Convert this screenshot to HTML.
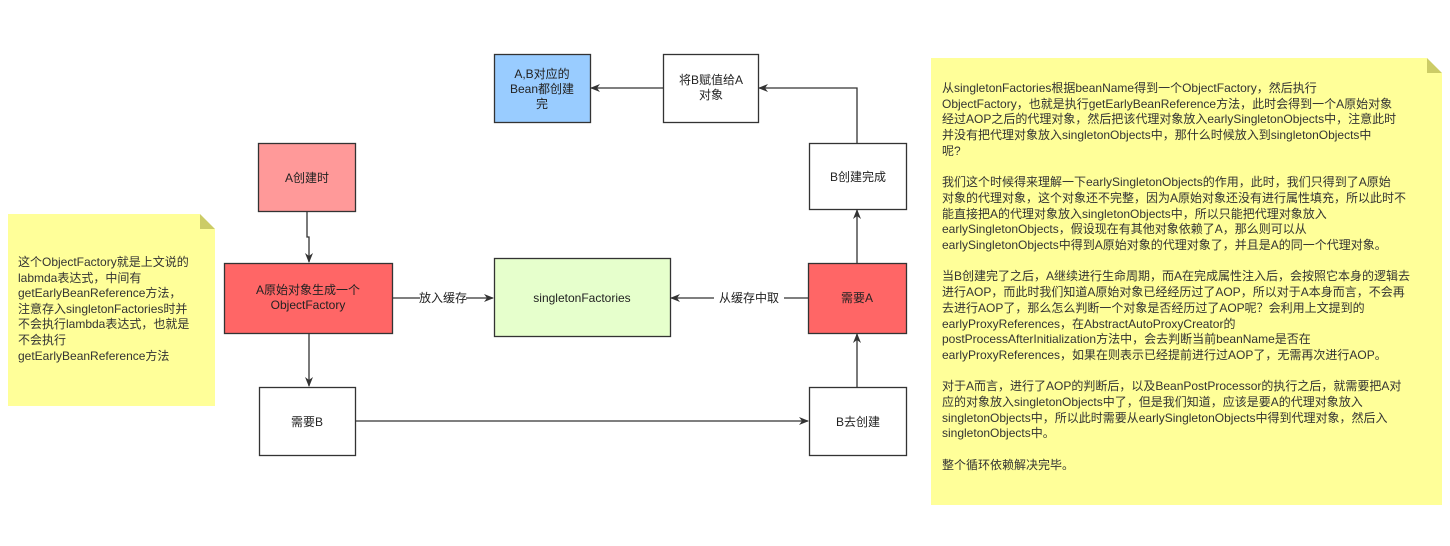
<!DOCTYPE html>
<html><head><meta charset="utf-8"><style>
body{margin:0;width:1450px;height:546px;background:#fff;position:relative;overflow:hidden;font-family:"Liberation Sans","Noto Sans CJK SC",sans-serif;}
.note{position:absolute;background:#ffff99;}
.fold{position:absolute;right:0;top:0;width:0;height:0;border-style:solid;}
.txt{position:absolute;white-space:nowrap;color:#333;}
</style></head><body>
<svg width="1450" height="546" style="position:absolute;left:0;top:0">
<defs><marker id="a" markerWidth="10" markerHeight="10" refX="9" refY="5" orient="auto" markerUnits="userSpaceOnUse"><path d="M0,1 L10,5 L0,9 L3,5 z" fill="#333"/></marker></defs>
<g stroke="#333" stroke-width="1.3" fill="none">
<rect x="494.5" y="54.5" width="96" height="68" fill="#99ccff"/>
<rect x="663.5" y="54.5" width="95" height="68" fill="#fff"/>
<rect x="258.5" y="143.5" width="97" height="68" fill="#ff9999"/>
<rect x="809.5" y="143.5" width="97" height="66" fill="#fff"/>
<rect x="224.5" y="263.5" width="168" height="70" fill="#ff6666"/>
<rect x="494.5" y="258.5" width="176" height="78" fill="#e6ffcc"/>
<rect x="808.5" y="263.5" width="98" height="70" fill="#ff6666"/>
<rect x="259.5" y="387.5" width="96" height="68" fill="#fff"/>
<rect x="809.5" y="387.5" width="97" height="68" fill="#fff"/>
<polyline points="307,211 307,237 309,237 309,262" marker-end="url(#a)"/>
<line x1="309" y1="333" x2="309" y2="386" marker-end="url(#a)"/>
<line x1="355" y1="421" x2="808" y2="421" marker-end="url(#a)"/>
<line x1="857" y1="387" x2="857" y2="334" marker-end="url(#a)"/>
<line x1="808" y1="298" x2="671" y2="298" marker-end="url(#a)"/>
<line x1="392" y1="298" x2="493" y2="298" marker-end="url(#a)"/>
<line x1="857" y1="263" x2="857" y2="210" marker-end="url(#a)"/>
<polyline points="857,143 857,88 759,88" marker-end="url(#a)"/>
<line x1="663" y1="88" x2="591" y2="88" marker-end="url(#a)"/>
</g>
<rect x="420" y="290" width="46" height="16" fill="#fff"/>
<rect x="714" y="290" width="70" height="16" fill="#fff"/>
<g font-family="Liberation Sans,Noto Sans CJK SC,sans-serif" font-size="12" fill="#222" text-anchor="middle">
<text x="542" y="78">A,B对应的</text><text x="542" y="93">Bean都创建</text><text x="542" y="108">完</text>
<text x="711" y="84">将B赋值给A</text><text x="711" y="99">对象</text>
<text x="307" y="182">A创建时</text>
<text x="858" y="181">B创建完成</text>
<text x="308" y="294">A原始对象生成一个</text><text x="308" y="309">ObjectFactory</text>
<text x="582" y="302">singletonFactories</text>
<text x="857" y="302">需要A</text>
<text x="307" y="426">需要B</text>
<text x="858" y="426">B去创建</text>
<text x="443" y="302">放入缓存</text>
<text x="749" y="302">从缓存中取</text>
</g>
</svg>
<div class="note" style="left:8px;top:214px;width:207px;height:192px;">
<div class="fold" style="border-width:0 15px 15px 0;border-color:transparent #fff #cccc66 transparent;"></div>
<div class="txt" style="left:10px;top:41px;font-size:12px;line-height:15.6px;">这个ObjectFactory就是上文说的<br>labmda表达式，中间有<br>getEarlyBeanReference方法，<br>注意存入singletonFactories时并<br>不会执行lambda表达式，也就是<br>不会执行<br>getEarlyBeanReference方法</div>
</div>
<div class="note" style="left:931px;top:58px;width:511px;height:447px;">
<div class="fold" style="border-width:0 15px 15px 0;border-color:transparent #fff #cccc66 transparent;"></div>
<div class="txt" style="left:11px;top:23px;font-size:12px;line-height:15.7px;">从singletonFactories根据beanName得到一个ObjectFactory，然后执行<br>ObjectFactory，也就是执行getEarlyBeanReference方法，此时会得到一个A原始对象<br>经过AOP之后的代理对象，然后把该代理对象放入earlySingletonObjects中，注意此时<br>并没有把代理对象放入singletonObjects中，那什么时候放入到singletonObjects中<br>呢?<br><br>我们这个时候得来理解一下earlySingletonObjects的作用，此时，我们只得到了A原始<br>对象的代理对象，这个对象还不完整，因为A原始对象还没有进行属性填充，所以此时不<br>能直接把A的代理对象放入singletonObjects中，所以只能把代理对象放入<br>earlySingletonObjects，假设现在有其他对象依赖了A，那么则可以从<br>earlySingletonObjects中得到A原始对象的代理对象了，并且是A的同一个代理对象。<br><br>当B创建完了之后，A继续进行生命周期，而A在完成属性注入后，会按照它本身的逻辑去<br>进行AOP，而此时我们知道A原始对象已经经历过了AOP，所以对于A本身而言，不会再<br>去进行AOP了，那么怎么判断一个对象是否经历过了AOP呢？会利用上文提到的<br>earlyProxyReferences，在AbstractAutoProxyCreator的<br>postProcessAfterInitialization方法中，会去判断当前beanName是否在<br>earlyProxyReferences，如果在则表示已经提前进行过AOP了，无需再次进行AOP。<br><br>对于A而言，进行了AOP的判断后，以及BeanPostProcessor的执行之后，就需要把A对<br>应的对象放入singletonObjects中了，但是我们知道，应该是要A的代理对象放入<br>singletonObjects中，所以此时需要从earlySingletonObjects中得到代理对象，然后入<br>singletonObjects中。<br><br>整个循环依赖解决完毕。</div>
</div>
</body></html>
